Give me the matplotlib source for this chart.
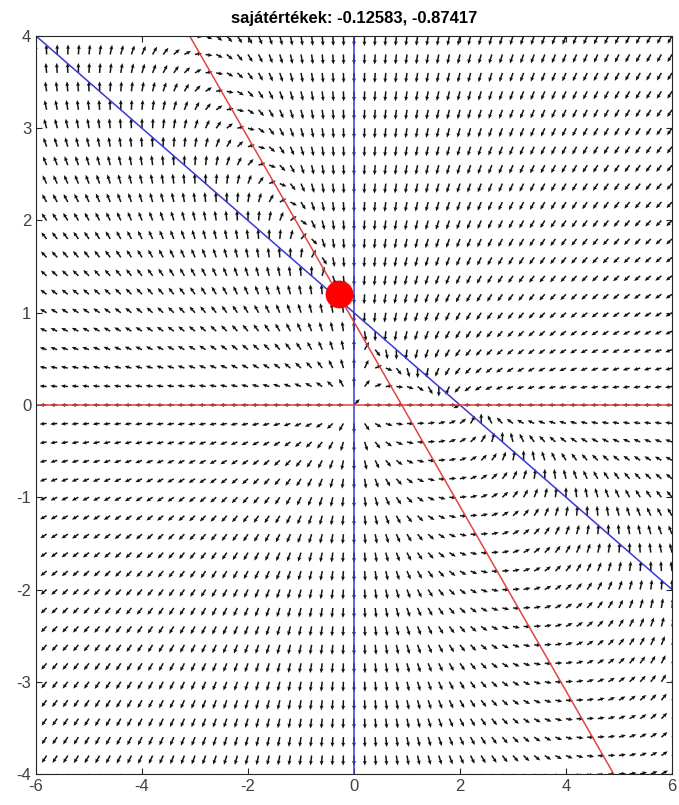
import matplotlib.pyplot as plt
import numpy as np

# x' = x*(a1 - b1*x - c1*y),  y' = y*(a2 - b2*x - c2*y)
a1, b1, c1 = 1.0, 0.5, 1.0
a2, b2, c2 = 0.9, 1.0, 1.0

x_grid = np.arange(-6, 6.001, 0.2)
y_grid = np.arange(-4, 4.001, 0.2)
xlim = [-6, 6]
ylim = [-4, 4]
xticks = [-6, -4, -2, 0, 2, 4, 6]
yticks = [-4, -3, -2, -1, 0, 1, 2, 3, 4]
dot_x, dot_y = -0.28, 1.2
title = 'sajátértékek: -0.12583, -0.87417'

plt.rcParams['font.family'] = ['Liberation Sans', 'DejaVu Sans']
plt.rcParams['axes.unicode_minus'] = False

fig = plt.figure(figsize=(6.79, 8.05), dpi=100)
ax = fig.add_axes([36/679, 31/805, 636/679, 738/805])
ax.set_xlim(xlim)
ax.set_ylim(ylim)

X, Y = np.meshgrid(x_grid, y_grid)
U = X*(a1 - b1*X - c1*Y)
V = Y*(a2 - b2*X - c2*Y)

# direction on screen; horizontal arrows ~7px, vertical ~10px
px_x = 636/(xlim[1]-xlim[0])
px_y = 738/(ylim[1]-ylim[0])
Us, Vs = U*px_x, V*px_y
L = np.hypot(Us, Vs)
L[L == 0] = 1
cs, sn = Us/L, Vs/L
Lpx = 1/np.sqrt((cs/7.0)**2 + (sn/10.0)**2)
ax.quiver(X, Y, cs*Lpx, sn*Lpx, angles='uv', scale_units='dots', scale=1,
          units='dots', width=1.5, headwidth=2.6, headlength=3.0,
          headaxislength=2.7, color='#111111', zorder=1)

xs = np.array(xlim, dtype=float)
ax.plot(xs, a1/c1 - b1/c1*xs, color='#3a3ad0', lw=1.1, zorder=2)
ax.axvline(0, color='#3a3ad0', lw=1.1, zorder=2)
ax.plot(xs, a2/c2 - b2/c2*xs, color='#e04444', lw=1.1, zorder=2)
ax.axhline(0, color='#e04444', lw=1.1, zorder=2)
ax.plot(dot_x, dot_y, 'o', color='red', ms=19, mec='red', zorder=3)

ax.set_xticks(xticks)
ax.set_yticks(yticks)
ax.tick_params(direction='in', top=True, right=True, length=4,
               labelsize=12, colors='#262626', labelcolor='#404040')
for s in ax.spines.values():
    s.set_color('#262626')
ax.set_title(title, fontsize=12, fontweight='bold', pad=9)

fig.savefig('out.png', dpi=100)
